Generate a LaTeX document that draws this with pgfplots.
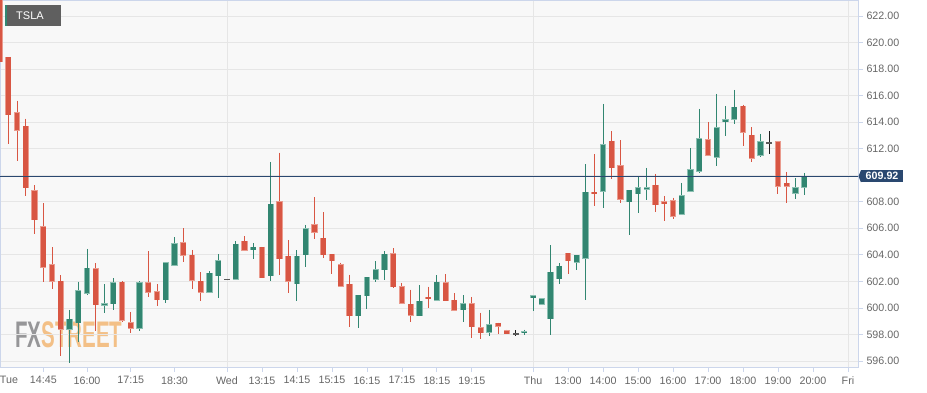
\documentclass[border=0pt]{standalone}
\usepackage{fontspec}
\setmainfont{Liberation Sans}
\usepackage{pgfplots}
\usepackage{pgfplotstable}
\pgfplotsset{compat=1.18}
\definecolor{cred}{RGB}{216,86,67}
\definecolor{credl}{RGB}{234,155,142}
\definecolor{cgreen}{RGB}{50,134,113}
\definecolor{cgreenl}{RGB}{140,192,178}
\definecolor{cdark}{RGB}{30,30,30}
\definecolor{cdarkb}{RGB}{90,90,90}
\definecolor{pline}{RGB}{42,72,112}
\definecolor{gridc}{RGB}{230,230,230}
\definecolor{axc}{RGB}{204,214,235}
\definecolor{plotbg}{RGB}{248,248,248}
\definecolor{txt}{RGB}{102,102,102}
\definecolor{fxg}{RGB}{150,150,152}
\definecolor{fxo}{RGB}{243,192,135}
\definecolor{tagbg}{RGB}{95,95,95}

\pgfplotstableread{
i o h l c
0 623.8 624.2 614.75 618.55
1 618.875 618.9 612.375 614.575
2 614.7 615.625 611.075 613.4
3 613.675 614.275 608.4 609.05
4 608.825 609.25 605.55 606.65
5 606.1 607.9 601.925 603.05
6 603.25 604.575 601.425 602.025
7 602.0 602.475 596.375 598.375
11 602.95 603.375 598.275 600.25
14 601.95 602.0 598.95 599.075
15 598.9 599.7 598.075 598.45
17 601.9 604.275 600.825 601.2
18 601.2 601.8 600.15 600.625
21 604.9 606.0 603.45 603.975
22 603.975 604.375 601.425 602.1
23 602.0 602.7 600.5 601.2
28 605.01 605.42 604.35 604.35
30 604.58 604.6 602.28 602.28
32 608.0 611.7 602.51 603.7
33 603.9 605.09 601.14 602.0
36 606.25 608.35 605.16 605.7
37 605.24 607.22 603.8 604.0
38 604.05 604.05 602.58 603.54
39 603.27 603.42 601.65 601.65
40 601.77 602.51 598.53 599.4
45 604.1 604.51 601.52 601.6
46 601.6 601.9 600.28 600.35
47 600.28 601.37 598.91 599.44
49 600.8 601.6 600.0 600.7
51 601.9 602.55 600.5 600.53
52 600.56 601.09 599.83 599.83
54 600.33 600.84 597.76 598.57
55 598.52 599.65 597.69 598.12
57 598.85 598.9 598.07 598.62
58 598.29 598.37 598.0 598.04
65 604.11 604.11 602.52 603.56
68 608.7 611.59 607.66 608.6
70 612.55 613.33 609.7 610.56
71 610.71 612.65 607.89 608.19
75 609.24 610.1 607.23 607.78
76 608.01 608.44 606.55 607.86
77 608.06 608.31 606.68 606.93
81 612.68 614.02 611.5 611.5
85 615.2 615.32 612.21 613.24
86 613.01 613.61 611.0 611.3
89 612.51 612.58 608.56 609.17
90 609.39 610.25 607.88 609.19
}\redT

\pgfplotstableread{
i o h l c
8 598.4 599.85 595.825 599.15
9 598.9 601.975 597.4 601.275
10 601.1 604.45 600.95 603.0
12 600.2 601.8 599.625 600.325
13 600.3 602.25 599.85 601.9
16 598.45 602.0 598.25 601.9
19 600.625 603.4 600.375 603.4
20 603.2 605.325 603.2 604.825
24 601.2 602.775 601.125 602.625
25 602.43 604.05 600.76 603.54
27 602.18 605.04 602.18 604.81
29 604.38 604.86 603.72 604.58
31 602.41 611.01 602.03 607.8
34 601.82 604.33 600.51 603.9
35 604.0 606.25 603.09 605.97
41 599.4 600.94 598.48 600.94
42 600.91 602.33 599.92 602.3
43 602.18 603.52 601.95 602.89
44 602.89 604.28 602.13 604.05
48 599.42 601.7 599.37 600.51
50 600.58 602.47 600.53 601.94
53 599.88 600.94 598.95 600.33
56 598.17 599.88 597.91 598.72
60 598.2 598.37 597.99 598.22
61 600.76 600.91 599.8 600.91
62 600.28 600.69 600.28 600.69
63 599.17 604.72 597.99 602.7
64 602.2 603.35 601.84 603.15
66 603.46 603.96 602.83 603.96
67 603.76 610.84 600.56 608.7
69 608.8 615.37 607.51 612.3
72 608.02 608.87 605.47 608.87
73 608.59 609.85 607.13 609.07
74 608.96 610.55 608.16 609.06
78 607.08 609.42 607.08 608.46
79 608.81 612.06 608.71 610.4
80 610.3 615.0 610.15 612.73
82 611.35 616.13 610.7 613.59
83 614.02 615.22 612.96 614.17
84 614.24 616.43 613.86 615.12
87 611.5 613.11 611.38 612.51
91 608.64 609.79 608.21 609.07
92 609.09 610.17 608.49 609.92
}\greenT

\pgfplotstableread{
i o h l c
26 602.15 602.16 602.14 602.15
59 598.04 598.32 597.89 598.04
88 612.41 613.31 611.6 612.41
}\darkT

\pgfplotsset{
  wick/.style={draw=none, mark=none, error bars/.cd, y dir=both, y explicit, error mark=none,
    error bar style={draw=#1, line width=1pt}},
  body/.style 2 args={draw=none, mark=none, error bars/.cd, y dir=both, y explicit, error mark=none,
    error bar style={draw=#1, line width=#2}},
}

\begin{document}
\begin{tikzpicture}[x=1pt,y=1pt]
\useasboundingbox (0,0) rectangle (927,392);
\fill[plotbg] (0,25) rectangle (858,392);
\node[anchor=base west, inner sep=0pt, xscale=0.555] at (15,45)
  {\fontsize{37}{37}\selectfont\bfseries\textcolor{fxg}{FX}\textcolor{fxo}{STREET}};
\begin{axis}[
  at={(0pt,25pt)}, anchor=south west, scale only axis,
  width=858pt, height=367pt,
  xmin=0.046, xmax=98.15, ymin=595.548, ymax=623.206,
  axis line style={draw=axc, line width=0.8pt},
  ytick={596,598,...,622},
  ytick pos=right, yticklabel pos=right,
  xtick pos=bottom,
  ymajorgrids, grid style={draw=gridc, line width=0.8pt},
  minor xtick={26,61,97}, xminorgrids, minor grid style={draw=gridc, line width=0.8pt},
  minor tick length=0pt,
  xtick={5,10,15,20,26,30,34,38,42,46,50,54,61,65,69,73,77,81,85,89,93,97},
  xticklabels={14:45,16:00,17:15,18:30,Wed,13:15,14:15,15:15,16:15,17:15,18:15,19:15,Thu,13:00,14:00,15:00,16:00,17:00,18:00,19:00,20:00,Fri},
  extra x ticks={1.07}, extra x tick labels={Tue},
  extra x tick style={tick style={draw=none}},
  tick align=outside, major tick length=5pt,
  tick style={draw=axc, line width=0.8pt},
  ticklabel style={font=\fontsize{10.7}{12}\selectfont, text=txt},
  /pgf/number format/assume math mode=true,
  yticklabel={\pgfmathprintnumber[fixed,fixed zerofill,precision=2]{\tick}},
  yticklabel style={anchor=west, xshift=0pt},
  xticklabel style={yshift=-1pt},
]
% wicks
\addplot[wick=cred] table[x=i, y=h, y error plus expr=0, y error minus expr=\thisrow{h}-\thisrow{l}] {\redT};
\addplot[wick=cgreen] table[x=i, y=h, y error plus expr=0, y error minus expr=\thisrow{h}-\thisrow{l}] {\greenT};
\addplot[wick=cdark] table[x=i, y=h, y error plus expr=0, y error minus expr=\thisrow{h}-\thisrow{l}] {\darkT};
% body borders
\addplot[body={credl}{6.2pt}] table[x=i, y expr={max(\thisrow{o},\thisrow{c})+0.04}, y error plus expr=0, y error minus expr={max(abs(\thisrow{o}-\thisrow{c}),0.1)+0.08}] {\redT};
\addplot[body={cgreenl}{6.2pt}] table[x=i, y expr={max(\thisrow{o},\thisrow{c})+0.04}, y error plus expr=0, y error minus expr={max(abs(\thisrow{o}-\thisrow{c}),0.1)+0.08}] {\greenT};
% bodies
\addplot[body={cred}{4.8pt}] table[x=i, y expr={max(\thisrow{o},\thisrow{c})}, y error plus expr=0, y error minus expr={max(abs(\thisrow{o}-\thisrow{c}),0.1)}] {\redT};
\addplot[body={cgreen}{4.8pt}] table[x=i, y expr={max(\thisrow{o},\thisrow{c})}, y error plus expr=0, y error minus expr={max(abs(\thisrow{o}-\thisrow{c}),0.1)}] {\greenT};
\addplot[body={cdarkb}{6pt}] table[x=i, y expr={\thisrow{o}+0.06}, y error plus expr=0, y error minus expr=0.12] {\darkT};
% last price line
\addplot[pline, line width=1.1pt, mark=none] coordinates {(0.046,609.92) (98.15,609.92)};
\coordinate (pl) at (axis cs:98.15,609.92);
\end{axis}
\node[fill=pline, text=white, font=\bfseries\fontsize{10.7}{12}\selectfont, inner xsep=4.5pt, inner ysep=2.2pt, anchor=west] (pb) at ([xshift=3pt]pl) {609.92};
\fill[pline] ([xshift=0.5pt]pl) -- (pb.north west) -- (pb.south west) -- cycle;
\fill[tagbg] (5,366) rectangle (61,387);
\fill[cgreen] (5,366) rectangle (7,387);
\node[text=white, font=\fontsize{11}{12}\selectfont, inner sep=0pt] at (30,376.5) {TSLA};
\end{tikzpicture}
\end{document}
